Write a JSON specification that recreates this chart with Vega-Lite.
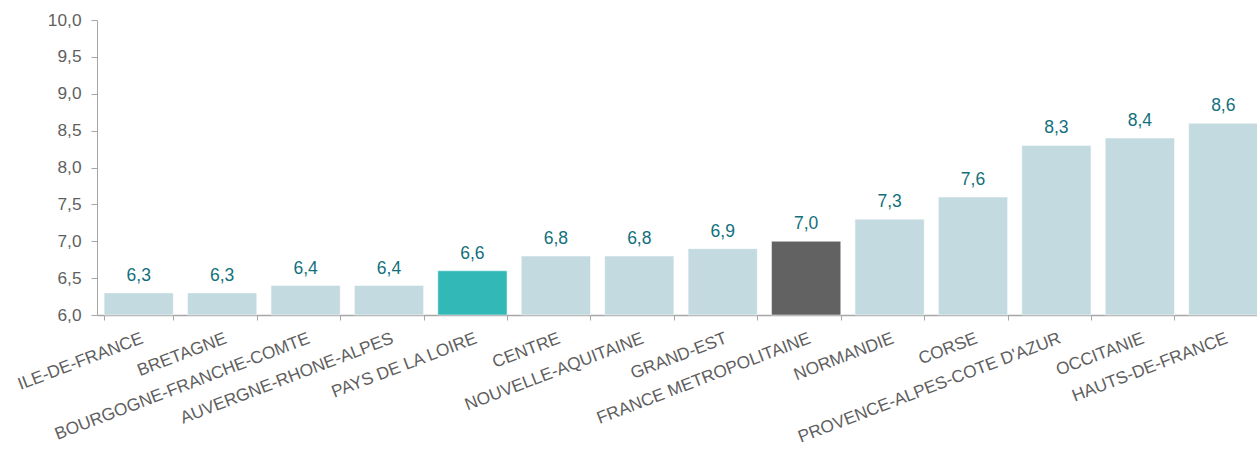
{
  "$schema": "https://vega.github.io/schema/vega-lite/v6.json",
  "width": 1160,
  "height": 295,
  "autosize": {"type": "none"},
  "padding": {"left": 97, "top": 20, "right": 0, "bottom": 135},
  "background": "white",
  "config": {
    "view": {"stroke": null},
    "font": "Liberation Sans",
    "locale": {"number": {"decimal": ",", "thousands": " ", "grouping": [3], "currency": ["", " €"]}}
  },
  "data": {
    "values": [
      {"region": "ILE-DE-FRANCE", "value": 6.3},
      {"region": "BRETAGNE", "value": 6.3},
      {"region": "BOURGOGNE-FRANCHE-COMTE", "value": 6.4},
      {"region": "AUVERGNE-RHONE-ALPES", "value": 6.4},
      {"region": "PAYS DE LA LOIRE", "value": 6.6},
      {"region": "CENTRE", "value": 6.8},
      {"region": "NOUVELLE-AQUITAINE", "value": 6.8},
      {"region": "GRAND-EST", "value": 6.9},
      {"region": "FRANCE METROPOLITAINE", "value": 7.0},
      {"region": "NORMANDIE", "value": 7.3},
      {"region": "CORSE", "value": 7.6},
      {"region": "PROVENCE-ALPES-COTE D'AZUR", "value": 8.3},
      {"region": "OCCITANIE", "value": 8.4},
      {"region": "HAUTS-DE-FRANCE", "value": 8.6}
    ]
  },
  "encoding": {
    "x": {
      "field": "region",
      "type": "nominal",
      "sort": null,
      "title": null,
      "scale": {"range": [0, 1168], "paddingInner": 0.17, "paddingOuter": 0.085},
      "axis": {
        "tickBand": "extent",
        "labelAngle": -21,
        "labelAlign": "right",
        "labelBaseline": "top",
        "labelFontSize": 17.3,
        "labelColor": "#5f5f5f",
        "labelLimit": 400,
        "labelPadding": 9,
        "tickSize": 5,
        "tickColor": "#a6a6a6",
        "domainColor": "#a6a6a6",
        "domainWidth": 1.5,
        "grid": false
      }
    },
    "y": {
      "field": "value",
      "type": "quantitative",
      "title": null,
      "scale": {"domain": [6, 10], "zero": false, "nice": false},
      "axis": {
        "values": [6, 6.5, 7, 7.5, 8, 8.5, 9, 9.5, 10],
        "format": ".1f",
        "labelFontSize": 17.3,
        "labelColor": "#5f5f5f",
        "labelPadding": 10,
        "tickSize": 6,
        "tickColor": "#a6a6a6",
        "domainColor": "#a6a6a6",
        "grid": false
      }
    }
  },
  "layer": [
    {
      "mark": {"type": "bar", "stroke": "white", "strokeWidth": 0.5},
      "encoding": {
        "y2": {"datum": 6},
        "color": {
          "condition": [
            {"test": "datum.region === 'PAYS DE LA LOIRE'", "value": "#33b8b8"},
            {"test": "datum.region === 'FRANCE METROPOLITAINE'", "value": "#626262"}
          ],
          "value": "#c3dbe0"
        }
      }
    },
    {
      "mark": {"type": "text", "baseline": "alphabetic", "dy": -12, "fontSize": 17.5, "color": "#12707c"},
      "encoding": {
        "text": {"field": "value", "type": "quantitative", "format": ".1f"}
      }
    }
  ]
}
